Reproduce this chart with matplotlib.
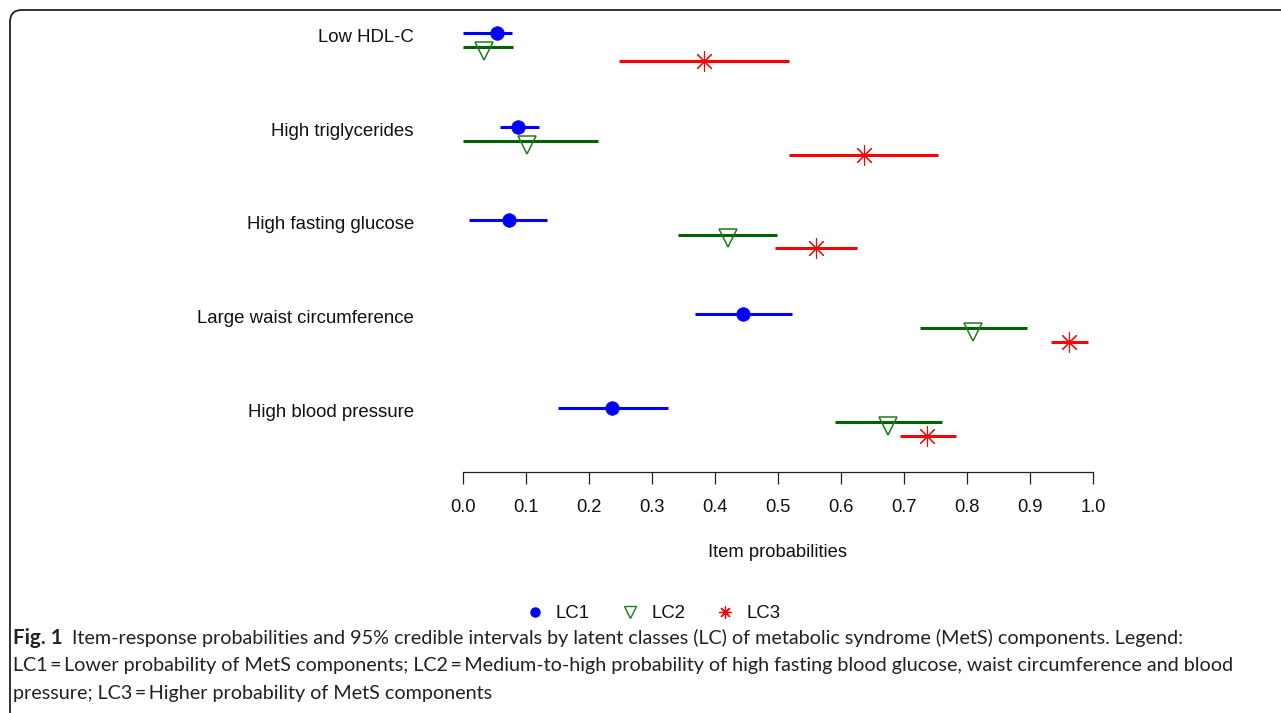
import numpy as np
import matplotlib
matplotlib.use("Agg")
import matplotlib.pyplot as plt
import matplotlib.transforms as mtransforms
from matplotlib.lines import Line2D
from matplotlib.path import Path
from matplotlib.patches import PathPatch

# ---------------- data ----------------
categories = ["Low HDL-C", "High triglycerides", "High fasting glucose",
              "Large waist circumference", "High blood pressure"]

lc1_est = [0.054, 0.088, 0.073, 0.445, 0.236]
lc1_lo = [0.000, 0.058, 0.010, 0.368, 0.150]
lc1_hi = [0.077, 0.121, 0.134, 0.523, 0.326]

lc2_est = [0.033, 0.102, 0.420, 0.810, 0.674]
lc2_lo = [0.000, 0.000, 0.342, 0.725, 0.590]
lc2_hi = [0.079, 0.214, 0.499, 0.896, 0.760]

lc3_est = [0.383, 0.637, 0.560, 0.962, 0.736]
lc3_lo = [0.248, 0.518, 0.495, 0.934, 0.694]
lc3_hi = [0.517, 0.754, 0.625, 0.992, 0.783]

class_names = ["LC1", "LC2", "LC3"]
xtick_values = [0.0, 0.1, 0.2, 0.3, 0.4, 0.5, 0.6, 0.7, 0.8, 0.9, 1.0]
xtick_labels = ["0.0", "0.1", "0.2", "0.3", "0.4", "0.5", "0.6", "0.7", "0.8", "0.9", "1.0"]
x_label = "Item probabilities"

caption_bold = "Fig. 1"
caption_l1 = ("Item-response probabilities and 95% credible intervals by latent classes (LC) "
              "of metabolic syndrome (MetS) components. Legend:")
caption_l2 = ("LC1\u2009=\u2009Lower probability of MetS components; LC2\u2009=\u2009Medium-to-high "
              "probability of high fasting blood glucose, waist circumference and blood")
caption_l3 = "pressure; LC3\u2009=\u2009Higher probability of MetS components"

# ---------------- figure ----------------
W, H = 1281, 713
plt.rcParams['font.family'] = ['Liberation Sans', 'DejaVu Sans']
fig = plt.figure(figsize=(W / 100, H / 100), dpi=100)


def fx(px):
    return px / W


def fy(py):
    return 1 - py / H


ax_left, ax_right, ax_bottom, ax_top = 463, 1093, 471.7, 0
ax = fig.add_axes([fx(ax_left), fy(ax_bottom), fx(ax_right) - fx(ax_left), fy(ax_top) - fy(ax_bottom)])

spacing_px = 93.67
first_px = 33.0
ax.set_xlim(0, 1)
ax.set_ylim(-(ax_bottom - first_px) / spacing_px, first_px / spacing_px)

cat_pos = -np.arange(len(categories), dtype=float)
offsets = [0.0, 0.153, 0.30]
colors = ["#0000ff", "#006400", "#ff0000"]

green_tr = mtransforms.offset_copy(ax.transData, fig=fig, x=0, y=-3.5, units='dots')

data = [(lc1_est, lc1_lo, lc1_hi), (lc2_est, lc2_lo, lc2_hi), (lc3_est, lc3_lo, lc3_hi)]
marker_styles = [
    dict(marker='o', ms=9.8, mfc=colors[0], mec=colors[0], mew=0.5, transform=ax.transData),
    dict(marker='v', ms=12.5, mfc='none', mec='#1f7a1f', mew=1.1, transform=green_tr),
    dict(marker=(8, 2, 0), ms=14.5, mfc='none', mec=colors[2], mew=0.8, transform=ax.transData),
]

for k, ((est, lo, hi), col, off, mst) in enumerate(zip(data, colors, offsets, marker_styles)):
    y = cat_pos - off
    ax.hlines(y, lo, hi, colors=col, lw=2.2, clip_on=False, zorder=2)
    ax.plot(est, y, linestyle='none', clip_on=False, zorder=3, **mst)

for s in ['top', 'right', 'left']:
    ax.spines[s].set_visible(False)
ax.spines['bottom'].set_bounds(0, 1)
ax.spines['bottom'].set_linewidth(0.9)
ax.spines['bottom'].set_color('#222222')

ax.set_xticks(xtick_values, xtick_labels)
ax.tick_params(axis='x', length=8.3, width=0.9, color='#222222', pad=11.2, labelsize=13.2,
               labelcolor='#111111')
ax.set_yticks(cat_pos, categories)
ax.tick_params(axis='y', length=0, pad=35.3, labelsize=13.4, labelcolor='#111111')
shift = mtransforms.ScaledTranslation(0, -2.5 / 100, fig.dpi_scale_trans)
for lab in ax.get_yticklabels():
    lab.set_transform(lab.get_transform() + shift)
ax.set_xlabel(x_label, fontsize=13.2, labelpad=20.5, color='#111111')
ax.patch.set_visible(False)

# ---------------- legend ----------------
handles = [
    Line2D([], [], linestyle='none', marker='o', ms=6.5, mfc=colors[0], mec=colors[0]),
    Line2D([], [], linestyle='none', marker='v', ms=8.5, mfc='none', mec='#1f7a1f', mew=1.0),
    Line2D([], [], linestyle='none', marker=(8, 2, 0), ms=9.0, mec=colors[2], mew=0.9),
]
fig.legend(handles, class_names, ncol=3, loc='center', bbox_to_anchor=(fx(654), fy(613.5)),
           frameon=False, fontsize=13.4, handlelength=0.8, handletextpad=0.75,
           columnspacing=1.75, borderpad=0, labelcolor='#111111')

# ---------------- border ----------------
r = 12
bx, by = 10, 10
verts_px = [(bx, H + 5), (bx, by + r), (bx, by), (bx + r, by), (W + 5, by)]
codes = [Path.MOVETO, Path.LINETO, Path.CURVE3, Path.CURVE3, Path.LINETO]
verts = [(fx(x), fy(y)) for x, y in verts_px]
fig.add_artist(PathPatch(Path(verts, codes), transform=fig.transFigure, fill=False,
                         ec='#222222', lw=1.3, clip_on=False))

# ---------------- caption ----------------
cap_font = ['Lato', 'DejaVu Sans']
x0 = 13
line_y = [638, 665.5, 693]
renderer = fig.canvas.get_renderer()

t2 = fig.text(fx(x0), fy(line_y[1]), caption_l2, family=cap_font, fontsize=10, va='center', ha='left',
              color='#222222')
w = t2.get_window_extent(renderer).width
cap_size = 10 * (1237 - x0) / w
t2.set_fontsize(cap_size)

tb = fig.text(fx(x0), fy(line_y[0]), caption_bold, family=cap_font, fontsize=cap_size * 1.05,
              weight='bold', va='center', ha='left', color='#222222')
wb = tb.get_window_extent(renderer).width
fig.text(fx(x0 + wb + 9), fy(line_y[0]), caption_l1, family=cap_font, fontsize=cap_size, va='center',
         ha='left', color='#222222')
fig.text(fx(x0), fy(line_y[2]), caption_l3, family=cap_font, fontsize=cap_size, va='center', ha='left',
         color='#222222')

fig.savefig("out.png", dpi=100)
